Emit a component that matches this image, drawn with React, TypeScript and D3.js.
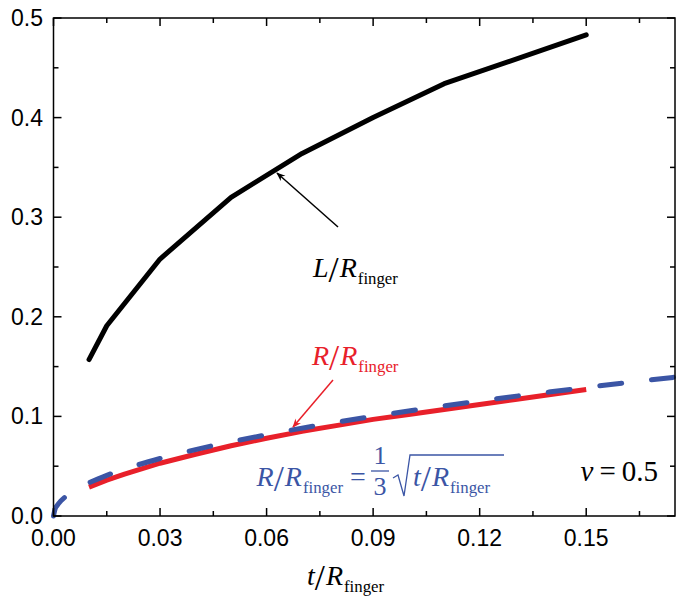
import React from "react";
import * as d3 from "d3";

// ---- data ----
const lT = [0.01, 0.015, 0.03, 0.05, 0.07, 0.09, 0.11, 0.15];
const lVal = [0.157, 0.191, 0.258, 0.32, 0.364, 0.4, 0.434, 0.483];

const rT = [0.01, 0.015, 0.02, 0.03, 0.04, 0.05, 0.06, 0.07, 0.08, 0.09, 0.1, 0.11, 0.12, 0.13, 0.14, 0.15];
const rVal = [0.029, 0.036, 0.042, 0.053, 0.062, 0.0705, 0.078, 0.085, 0.091, 0.097, 0.102, 0.107, 0.112, 0.117, 0.122, 0.127];

const fitT = [0, 0.0005, 0.001, 0.002, 0.004, 0.007, 0.01, 0.015, 0.02, 0.03, 0.04, 0.05, 0.06, 0.08, 0.1, 0.12, 0.14, 0.16, 0.175];
const fitVal = [0, 0.0075, 0.0105, 0.0149, 0.0211, 0.0279, 0.0333, 0.0408, 0.0471, 0.0577, 0.0667, 0.0745, 0.0816, 0.0943, 0.1054, 0.1155, 0.1247, 0.1333, 0.1394];

const xMajor = [0, 0.03, 0.06, 0.09, 0.12, 0.15];
const xMajorLabels = ["0.00", "0.03", "0.06", "0.09", "0.12", "0.15"];
const xMinor = [0.015, 0.045, 0.075, 0.105, 0.135, 0.165];
const yMajor = [0, 0.1, 0.2, 0.3, 0.4, 0.5];
const yMajorLabels = ["0.0", "0.1", "0.2", "0.3", "0.4", "0.5"];
const yMinor = [0.05, 0.15, 0.25, 0.35, 0.45];

const W = 679, H = 603;
const L = 53.5, R = 675, T = 18, B = 516;
const BLACK = "#000";
const RED = "#e8202a";
const BLUE = "#3b55a5";
const SERIF = "'Liberation Serif', 'Times New Roman', serif";
const SANS = "'Liberation Sans', Arial, sans-serif";

const x = d3.scaleLinear().domain([0, 0.175]).range([L, R]);
const y = d3.scaleLinear().domain([0, 0.5]).range([B, T]);

const zip = (a: number[], b: number[]) => a.map((v, i) => [v, b[i]] as [number, number]);
const lineLin = d3.line<[number, number]>().x(d => x(d[0])).y(d => y(d[1]));
const lineSmooth = d3.line<[number, number]>().x(d => x(d[0])).y(d => y(d[1])).curve(d3.curveMonotoneX);

function Ratio({ x0, base, num, color, size = 28, anchor = "start" }: any) {
  return (
    <text x={x0} y={base} fill={color} fontFamily={SERIF} fontSize={size} textAnchor={anchor}>
      <tspan fontStyle="italic">{num}</tspan>
      <tspan fontSize={size * 1.3} dy={5} dx={0}>/</tspan>
      <tspan fontStyle="italic" dy={-5} dx={1}>R</tspan>
      <tspan fontSize={size * 0.6} dy={7} dx={1}>finger</tspan>
    </text>
  );
}

export default function App() {
  const majorLen = 8, minorLen = 5;
  return (
    <svg width={W} height={H} style={{ position: "absolute", left: 0, top: 0, background: "#fff" }}>
      <rect x={0} y={0} width={W} height={H} fill="#fff" />
      {/* curves */}
      <path d={lineLin(zip(rT, rVal)) || ""} fill="none" stroke={RED} strokeWidth={5} strokeLinejoin="round" />
      <path d={lineSmooth(zip(fitT, fitVal)) || ""} fill="none" stroke={BLUE} strokeWidth={5}
        strokeDasharray="22 30" strokeLinecap="round" />
      <path d={lineLin(zip(lT, lVal)) || ""} fill="none" stroke={BLACK} strokeWidth={5} strokeLinejoin="round" strokeLinecap="round" />

      {/* axes box */}
      <rect x={L} y={T} width={R - L} height={B - T} fill="none" stroke={BLACK} strokeWidth={1.5} />
      {xMajor.map((v, i) => (
        <g key={"xM" + i}>
          <line x1={x(v)} x2={x(v)} y1={B} y2={B - majorLen} stroke={BLACK} strokeWidth={1.5} />
          <line x1={x(v)} x2={x(v)} y1={T} y2={T + majorLen} stroke={BLACK} strokeWidth={1.5} />
          <text x={x(v)} y={546} textAnchor="middle" fontFamily={SANS} fontSize={23}>{xMajorLabels[i]}</text>
        </g>
      ))}
      {xMinor.map((v, i) => (
        <g key={"xm" + i}>
          <line x1={x(v)} x2={x(v)} y1={B} y2={B - minorLen} stroke={BLACK} strokeWidth={1.5} />
          <line x1={x(v)} x2={x(v)} y1={T} y2={T + minorLen} stroke={BLACK} strokeWidth={1.5} />
        </g>
      ))}
      {yMajor.map((v, i) => (
        <g key={"yM" + i}>
          <line x1={L} x2={L + majorLen} y1={y(v)} y2={y(v)} stroke={BLACK} strokeWidth={1.5} />
          <line x1={R} x2={R - majorLen} y1={y(v)} y2={y(v)} stroke={BLACK} strokeWidth={1.5} />
          <text x={43} y={y(v) + 8} textAnchor="end" fontFamily={SANS} fontSize={23}>{yMajorLabels[i]}</text>
        </g>
      ))}
      {yMinor.map((v, i) => (
        <g key={"ym" + i}>
          <line x1={L} x2={L + minorLen} y1={y(v)} y2={y(v)} stroke={BLACK} strokeWidth={1.5} />
          <line x1={R} x2={R - minorLen} y1={y(v)} y2={y(v)} stroke={BLACK} strokeWidth={1.5} />
        </g>
      ))}

      {/* x axis title */}
      <Ratio x0={307} base={585} num="t" color={BLACK} />

      {/* L label + arrow */}
      <Ratio x0={313} base={277} num="L" color={BLACK} />
      <defs>
        <marker id="ahB" viewBox="0 0 10 10" refX="9" refY="5" markerWidth="9" markerHeight="9" orient="auto-start-reverse" markerUnits="userSpaceOnUse">
          <path d="M0,1 L10,5 L0,9 L3,5 Z" fill={BLACK} />
        </marker>
        <marker id="ahR" viewBox="0 0 10 10" refX="9" refY="5" markerWidth="9" markerHeight="9" orient="auto-start-reverse" markerUnits="userSpaceOnUse">
          <path d="M0,1 L10,5 L0,9 L3,5 Z" fill={RED} />
        </marker>
      </defs>
      <line x1={338} y1={227} x2={277} y2={173} stroke={BLACK} strokeWidth={1.5} markerEnd="url(#ahB)" />

      {/* R label + arrow */}
      <Ratio x0={312} base={365} num="R" color={RED} />
      <line x1={333} y1={380} x2={293} y2={427} stroke={RED} strokeWidth={1.5} markerEnd="url(#ahR)" />

      {/* fit formula */}
      <Ratio x0={343} base={486} num="R" color={BLUE} anchor="end" />
      <text x={350} y={486} fill={BLUE} fontFamily={SERIF} fontSize={28}>=</text>
      <text x={380} y={464} fill={BLUE} fontFamily={SERIF} fontSize={26} textAnchor="middle">1</text>
      <line x1={371} x2={389} y1={471} y2={471} stroke={BLUE} strokeWidth={1.3} />
      <text x={380} y={495} fill={BLUE} fontFamily={SERIF} fontSize={26} textAnchor="middle">3</text>
      <path d="M393,478 L398,475 L404,496 L410,455 L504,455" fill="none" stroke={BLUE} strokeWidth={1.3} />
      <Ratio x0={413} base={486} num="t" color={BLUE} />

      {/* nu label */}
      <text x={658} y={481} fontFamily={SERIF} fontSize={29} textAnchor="end" fill={BLACK}>
        <tspan fontStyle="italic">ν</tspan><tspan dx={6}>=</tspan><tspan dx={6}>0.5</tspan>
      </text>
    </svg>
  );
}
